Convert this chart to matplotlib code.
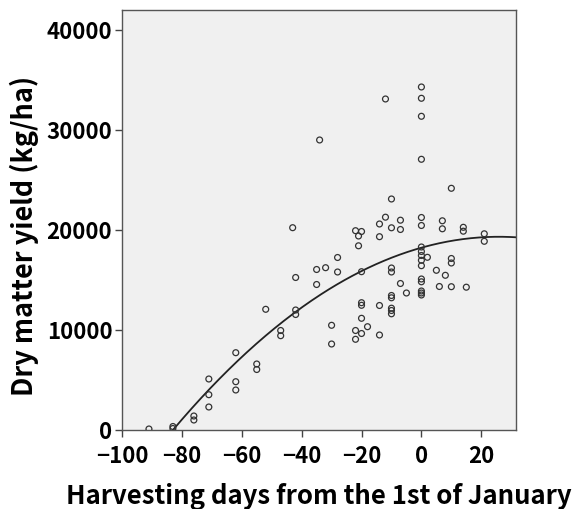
import numpy as np
import matplotlib
matplotlib.use("Agg")
import matplotlib.pyplot as plt

# harvesting day (from 1 Jan) and dry matter yield (kg/ha)
days = [-91, -83, -83, -76, -76, -71, -71, -71, -62, -62, -62, -55, -55, -52,
        -47, -47, -43, -42, -42, -42, -34, -35, -35, -32, -30, -30, -28, -28,
        -22, -22, -22, -21, -21, -20, -20, -20, -20, -20, -20, -18,
        -14, -14, -14, -14, -12, -12,
        -10, -10, -10, -10, -10, -10, -10, -10, -10,
        -7, -7, -7, -5,
        0, 0, 0, 0, 0, 0, 0, 0, 0, 0, 0, 0, 0, 0, 0, 0,
        2, 5, 6, 7, 7, 8, 10, 10, 10, 10, 14, 14, 15, 21, 21]
dm_yield = [100, 350, 150, 1400, 1000, 5100, 3530, 2300, 7730, 4830, 4000, 6600, 6050, 12070,
            9950, 9430, 20230, 15250, 12000, 11550, 29000, 16050, 14550, 16230, 10470, 8600, 17250, 15800,
            19930, 9950, 9070, 19400, 18420, 19850, 15830, 12730, 12470, 11170, 9650, 10330,
            20600, 19330, 12450, 9500, 33100, 21280,
            23100, 20220, 16200, 15800, 13450, 13220, 12180, 11950, 11620,
            20980, 20050, 14650, 13700,
            34300, 33170, 31370, 27070, 21250, 20450, 18300, 17850, 17450, 16970, 16430, 15100, 14820, 13900, 13700, 13500,
            17270, 15970, 14350, 20920, 20120, 15470, 24170, 17150, 16700, 14330, 20270, 19880, 14280, 19620, 18870]

# quadratic curve as drawn (constant, linear, quadratic)
fit_coef = [18230, 84.4, -1.63]

x_ticks = [-100, -80, -60, -40, -20, 0, 20]
y_ticks = [0, 10000, 20000, 30000, 40000]

plt.rcParams['font.family'] = ['Noto Sans CJK KR', 'DejaVu Sans']

fig = plt.figure(figsize=(5.72, 5.09), dpi=100)
ax = fig.add_axes([0.2133, 0.1552, 0.6883, 0.8252])
ax.set_facecolor('#f0f0f0')

ax.scatter(days, dm_yield, s=18, facecolors='none', edgecolors='#333333', linewidths=0.9, zorder=3)

xx = np.linspace(-100, 31.5, 300)
ax.plot(xx, fit_coef[0] + fit_coef[1] * xx + fit_coef[2] * xx ** 2, color='#222222', lw=1.3, zorder=2)

ax.set_xlim(-100, 31.5)
ax.set_ylim(0, 42000)
ax.set_xticks(x_ticks)
ax.set_yticks(y_ticks)
ax.tick_params(direction='out', length=5, width=1, color='#444444', labelsize=16)
ax.tick_params(axis='y', pad=2)
ax.tick_params(axis='x', pad=6)
for lab in ax.get_xticklabels() + ax.get_yticklabels():
    lab.set_fontweight('bold')
for s in ax.spines.values():
    s.set_color('#555555')
    s.set_linewidth(1)

ax.set_xlabel('Harvesting days from the 1st of January', fontsize=18.5, fontweight='bold')
ax.set_ylabel('Dry matter yield (kg/ha)', fontsize=19.5, fontweight='bold')
ax.xaxis.set_label_coords(0.5, -0.125)
ax.yaxis.set_label_coords(-0.21, 0.461)

fig.savefig('out.png', dpi=100)
